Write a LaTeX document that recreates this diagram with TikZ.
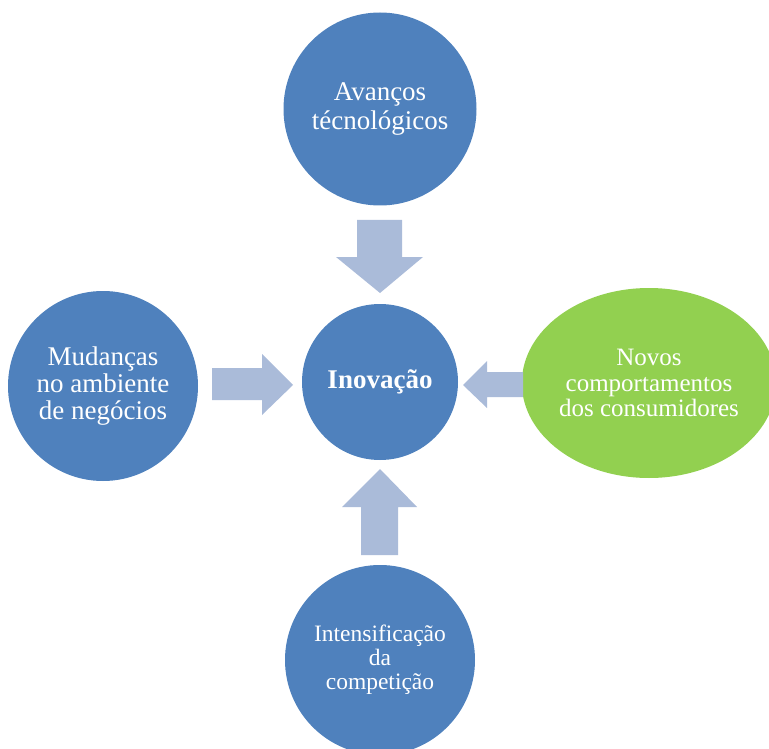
\documentclass[tikz,border=0pt]{standalone}
\usepackage{fontspec}
\setmainfont{Liberation Serif}
\usetikzlibrary{shapes.geometric}
\definecolor{circblue}{RGB}{79,129,189}
\definecolor{arrblue}{RGB}{170,187,217}
\definecolor{ovgreen}{RGB}{146,208,80}
\begin{document}
\begin{tikzpicture}[x=1pt,y=-1pt,
  bubble/.style={circle,fill=circblue,draw=none,inner sep=0pt,text=white,align=center},
  blockarrow/.style={fill=arrblue,draw=none}]
\useasboundingbox (0,0) rectangle (769,749);
% nodes
\node[bubble,minimum size=193pt,font=\fontsize{27}{29}\selectfont] (top) at (380,109) {Avanços\\técnológicos};
\node[bubble,minimum size=156pt,font=\fontsize{27}{28.5}\selectfont\bfseries] (ino) at (380,382) {Inovação};
\node[bubble,minimum size=190pt,font=\fontsize{27}{27}\selectfont] (left) at (103,386) {Mudanças\\no ambiente\\de negócios};
\node[ellipse,fill=ovgreen,draw=none,inner sep=0pt,minimum width=242pt,minimum height=190pt,text=white,align=center,font=\fontsize{25}{25.5}\selectfont] (right) at (649,383) {Novos\\comportamentos\\dos consumidores};
\node[bubble,minimum size=190pt,font=\fontsize{23.5}{24}\selectfont] (bot) at (380,660) {Intensificação\\da\\competição};
% block arrows
\fill[blockarrow] (357,220) -- (402,220) -- (402,257) -- (423,257) -- (380,293) -- (336,257) -- (357,257) -- cycle;
\fill[blockarrow] (212,368) -- (262,368) -- (262,354) -- (293,385) -- (262,415) -- (262,400) -- (212,400) -- cycle;
\fill[blockarrow] (523,372) -- (487,372) -- (487,361) -- (463,385) -- (487,408) -- (487,397) -- (523,397) -- cycle;
\fill[blockarrow] (361,555) -- (361,507) -- (342,507) -- (380,469) -- (417,507) -- (398,507) -- (398,555) -- cycle;
\end{tikzpicture}
\end{document}
